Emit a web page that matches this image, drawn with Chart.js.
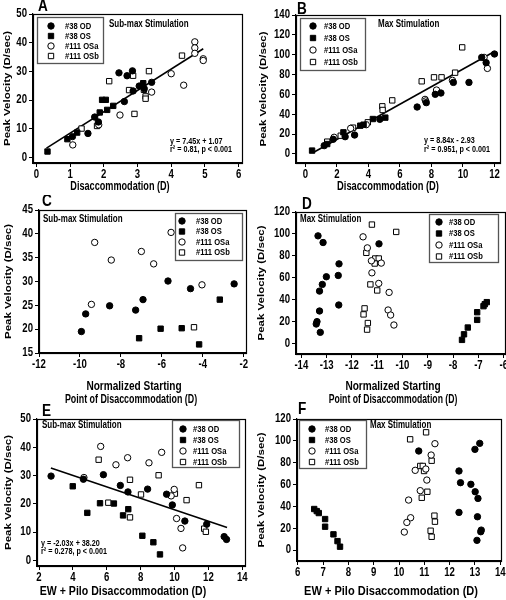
<!DOCTYPE html>
<html>
<head>
<meta charset="utf-8">
<script src="https://cdn.jsdelivr.net/npm/chart.js@4.4.1/dist/chart.umd.min.js"></script>
<style>
  html, body { margin: 0; padding: 0; background: #fff; }
  #wrap { position: relative; width: 506px; height: 600px; overflow: hidden; background: #fff; }
  #wrap canvas { position: absolute; }
</style>
</head>
<body>
<div id="wrap">
  <canvas id="cA"></canvas>
  <canvas id="cB"></canvas>
  <canvas id="cC"></canvas>
  <canvas id="cD"></canvas>
  <canvas id="cE"></canvas>
  <canvas id="cF"></canvas>
</div>
<script>
// series names, same in every panel
const seriesNames = ['#38 OD', '#38 OS', '#111 OSa', '#111 OSb'];

// A: sub-max, peak velocity vs disaccommodation
const aOD = [[1.07,7.3],[1.53,8.4],[1.73,14.1],[1.84,12.4],[2.45,29.5],[2.69,28.5],[2.85,30.2],[2.61,19.5],[3.05,24.9],[3.42,26.2],[2.87,23.2],[3.2,24.0]];
const aOS = [[0.33,2.1],[0.92,6.4],[1.21,8.7],[1.88,15.7],[1.95,20.1],[2.06,20.1],[2.1,16.6],[2.28,18.0],[3.17,25.9]];
const aOSa = [[1.08,4.4],[1.85,11.4],[2.48,14.8],[3.42,22.8],[4.0,29.2],[4.37,25.2],[4.7,40.3],[4.7,38.2],[4.7,36.3],[4.95,34.4],[4.95,33.8]];
const aOSb = [[1.34,10.1],[1.8,11.0],[2.16,26.6],[2.75,23.5],[2.87,28.5],[2.91,15.2],[3.34,30.1],[3.19,23.6],[3.24,21.3],[3.24,20.5],[4.32,35.5]];
const aFit = [[0.3,3.3],[4.95,37.9]];
const aXTicks = [0,1,2,3,4,5,6];
const aYTicks = [0,10,20,30,40,50];

// B: max, peak velocity vs disaccommodation
const bOD = [[1.19,8.4],[1.76,14.8],[2.52,17.4],[3.12,19.1],[4.72,34.9],[7.09,47.3],[7.67,51.7],[8.24,60.1],[8.6,61.4],[9.39,72.1],[10.38,72.1],[11.19,97.3],[11.47,92],[12.0,100.7]];
const bOS = [[0.42,3.4],[1.38,10],[2.41,21.8],[3.48,28.5],[3.69,29.5],[4.28,35.2],[5.07,36.6]];
const bOSa = [[1.82,16.8],[2.87,25.8],[3.86,29.5],[7.59,55],[7.63,53.4],[8.32,64.4],[9.33,74.2],[11.34,97.3],[11.55,86.2]];
const bOSb = [[1.38,12.4],[2.24,18.4],[3.02,26.5],[3.96,31.9],[4.88,48],[4.9,44.3],[5.51,54],[7.38,73.2],[8.16,77.2],[8.64,77.2],[9.5,81.9],[9.95,107.4]];
const bFit = [[0.5,1.5],[12,103.2]];
const bXTicks = [0,2,4,6,8,10,12];
const bYTicks = [0,20,40,60,80,100,120,140];

// C: sub-max, peak velocity vs normalized starting point
const cOD = [[-9.93,19.5],[-9.72,23.2],[-8.55,24.9],[-7.28,24.0],[-6.92,26.2],[-5.7,30.1],[-4.6,28.5],[-2.47,29.5]];
const cOS = [[-7.11,18.1],[-6.06,20.1],[-5.03,20.2],[-4.18,16.8],[-3.17,26.2]];
const cOSa = [[-9.28,38.2],[-8.47,34.5],[-7.0,36.3],[-6.4,33.7],[-5.55,40.3],[-4.04,29.3],[-9.44,25.2]];
const cOSb = [[-4.43,20.4]];
const cXTicks = [-12,-10,-8,-6,-4,-2];
const cYTicks = [15,20,25,30,35,40,45];

// D: max, peak velocity vs normalized starting point
const dOD = [[-13.34,98.2],[-13.14,92.1],[-12.51,72.6],[-13.01,60.8],[-12.54,62.0],[-13.17,53.8],[-13.28,47.7],[-12.52,35.0],[-13.28,29.5],[-13.38,19.8],[-13.41,17.6],[-13.25,10.0],[-10.93,90.9]];
const dOS = [[-7.65,3.1],[-7.57,8.2],[-7.42,14.4],[-7.05,21.4],[-7.05,28.4],[-6.8,33.9],[-6.75,35.7],[-6.67,37.6]];
const dOSa = [[-11.56,97.3],[-11.39,87.2],[-11.23,75.4],[-10.84,73.3],[-11.21,64.4],[-10.94,54.7],[-10.53,46.5],[-10.57,30.4],[-10.47,25.8],[-10.34,16.7]];
const dOSb = [[-11.21,108.5],[-10.25,101.8],[-11.43,82.7],[-11.08,77.5],[-10.94,77.5],[-11.1,72.9],[-11.27,53.8],[-11.0,48.3],[-11.5,31.9],[-11.54,26.4],[-11.37,18.5],[-11.4,12.5]];
const dXTicks = [-14,-13,-12,-11,-10,-9,-8,-7,-6];
const dYTicks = [0,20,40,60,80,100,120];

// E: sub-max, peak velocity vs EW + pilo disaccommodation
const eOD = [[2.71,29.8],[4.62,28.7],[5.8,30.3],[6.8,26.5],[7.25,24.2],[8.41,25.2],[9.53,23.4],[9.87,19.6],[10.61,13.9],[11.9,12.8],[12.93,8.4],[13.07,7.4]];
const eOS = [[3.99,26.2],[4.85,16.8],[5.6,20.2],[6.42,20.1],[6.96,15.9],[7.27,18.1],[8.1,8.7],[8.75,6.4],[9.14,2.1]];
const eOSa = [[4.65,29.3],[5.64,40.3],[6.54,33.8],[7.23,36.3],[8.49,34.5],[9.24,38.2],[9.98,25.1],[9.8,22.8],[10.12,14.8],[10.38,11.3],[10.48,4.4]];
const eOSb = [[5.52,35.6],[6.09,20.4],[7.37,28.5],[7.37,15.2],[8.02,23.3],[9.06,30.1],[10.02,23.6],[10.71,21.3],[11.44,26.6],[11.75,11.2],[11.85,10.1]];
const eFit = [[2.7,32.7],[13.1,11.6]];
const eXTicks = [2,4,6,8,10,12,14];
const eYTicks = [0,10,20,30,40,50];

// F: max, peak velocity vs EW + pilo disaccommodation
const fOD = [[13.19,97.7],[13.0,92.2],[12.37,72.4],[12.43,61.7],[12.84,60.2],[13.01,53.4],[13.12,47.3],[13.1,30.5],[12.37,34.5],[13.25,18.3],[13.23,16.8],[13.08,8.9],[10.78,90.7]];
const fOS = [[6.65,37.6],[6.75,35.7],[6.83,33.9],[7.08,28.4],[7.08,21.4],[7.41,14.4],[7.57,8.2],[7.67,3.1]];
const fOSa = [[11.42,97.4],[11.27,87],[11.06,74.2],[10.64,73],[11.1,64.1],[10.84,54.4],[10.38,45.8],[10.46,29.6],[10.31,25.3],[10.21,16.5]];
const fOSb = [[10.44,101.4],[11.07,107.8],[10.84,77],[10.94,77],[10.99,72.4],[11.29,81.8],[11.12,53.4],[10.9,47.9],[11.4,31.5],[11.42,26],[11.25,17.7],[11.29,12.2]];
const fXTicks = [6,7,8,9,10,11,12,13,14];
const fYTicks = [0,20,40,60,80,100,120];

const K = 0.8;   // default horizontal squeeze of the lettering, like the scanned figure
const FONT = "'Liberation Sans', Arial, sans-serif";
Chart.defaults.font.family = FONT;
Chart.defaults.font.weight = 'bold';
Chart.defaults.color = '#000';

const markers = [
  { pointStyle: 'circle', radius: 3.2, fill: '#000' },
  { pointStyle: 'rect', radius: 3.8, fill: '#000' },
  { pointStyle: 'circle', radius: 3.2, fill: '#fff' },
  { pointStyle: 'rect', radius: 3.8, fill: '#fff' }
];

// squeeze every text horizontally around its anchor (rotated text: squeeze its thickness)
const narrowText = {
  id: 'narrowText',
  afterInit(chart) {
    const ctx = chart.ctx;
    const base = ctx.fillText;
    chart.$k = K;
    ctx.fillText = function (t, x, y, mw) {
      const k = chart.$k;
      const m = ctx.getTransform();
      ctx.save();
      ctx.translate(x, y);
      if (Math.abs(m.b) > 0.5) ctx.scale(1, k); else ctx.scale(k, 1);
      if (mw === undefined) base.call(ctx, t, 0, 0); else base.call(ctx, t, 0, 0, mw / k);
      ctx.restore();
    };
  }
};

// frame, panel letter, notes, x title and boxed legend
const decor = {
  id: 'decor',
  afterDraw(chart, args, o) {
    const ctx = chart.ctx, a = chart.chartArea;
    const ox = o.ox, oy = o.oy;
    ctx.save();
    ctx.strokeStyle = '#000';
    ctx.lineWidth = 1.2;
    ctx.strokeRect(Math.round(a.left) + 0.5, Math.round(a.top) + 0.5, Math.round(a.right - a.left), Math.round(a.bottom - a.top));

    ctx.fillStyle = '#000';
    ctx.textBaseline = 'alphabetic';
    ctx.textAlign = 'left';
    ctx.font = 'bold 17px ' + FONT;
    ctx.fillText(o.letter[0], o.letter[1] - ox, o.letter[2] - oy);

    ctx.textBaseline = 'middle';
    ctx.font = 'bold 10px ' + FONT;
    ctx.fillText(o.stim[0], o.stim[1] - ox, o.stim[2] - oy);

    ctx.font = 'bold 9px ' + FONT;
    (o.notes || []).forEach(n => ctx.fillText(n[0], n[1] - ox, n[2] - oy));

    // x titles: [text, centre x, centre y, font size, squeeze]
    ctx.textAlign = 'center';
    o.xTitle.forEach(n => {
      ctx.font = 'bold ' + n[3] + 'px ' + FONT;
      chart.$k = n[4];
      ctx.fillText(n[0], n[1] - ox, n[2] - oy);
    });
    chart.$k = K;

    const L = o.legend;
    ctx.fillStyle = '#fff';
    ctx.fillRect(L.box[0] - ox, L.box[1] - oy, L.box[2] - L.box[0], L.box[3] - L.box[1]);
    ctx.strokeStyle = '#555';
    ctx.lineWidth = 1.3;
    ctx.strokeRect(L.box[0] - ox + 0.5, L.box[1] - oy + 0.5, L.box[2] - L.box[0], L.box[3] - L.box[1]);
    ctx.textAlign = 'left';
    ctx.font = 'bold 9.5px ' + FONT;
    seriesNames.forEach((name, i) => {
      const y = L.rows[i] - oy;
      ctx.fillStyle = markers[i].fill;
      ctx.strokeStyle = '#000';
      ctx.lineWidth = 1;
      Chart.helpers.drawPoint(ctx, { pointStyle: markers[i].pointStyle, radius: markers[i].radius, rotation: 0, borderWidth: 1 }, L.mx - ox, y);
      ctx.fillStyle = '#000';
      ctx.fillText(name, L.tx - ox, y);
    });
    ctx.restore();
  }
};

function toXY(arr) { return arr.map(p => ({ x: p[0], y: p[1] })); }

function makePanel(id, p) {
  const cv = document.getElementById(id);
  const c = p.canvas, b = p.box;
  cv.width = c.w; cv.height = c.h;
  cv.style.left = c.x + 'px'; cv.style.top = c.y + 'px';
  cv.style.width = c.w + 'px'; cv.style.height = c.h + 'px';

  const datasets = p.groups.map((g, i) => ({
    label: seriesNames[i],
    data: toXY(g),
    pointStyle: markers[i].pointStyle,
    pointRadius: markers[i].radius,
    pointBackgroundColor: markers[i].fill,
    pointBorderColor: '#000',
    pointBorderWidth: 1,
    showLine: false,
    order: 1
  }));
  if (p.fit) {
    datasets.push({
      type: 'line', data: toXY(p.fit), borderColor: '#000', borderWidth: 1.6,
      pointRadius: 0, fill: false, tension: 0, order: 9
    });
  }

  const tickFont = { size: 12, weight: 'bold' };
  new Chart(cv, {
    type: 'scatter',
    data: { datasets },
    options: {
      responsive: false,
      animation: false,
      events: [],
      layout: { autoPadding: false, padding: { left: 0, top: b.t - c.y, right: c.x + c.w - b.r, bottom: 0 } },
      plugins: {
        legend: { display: false },
        tooltip: { enabled: false },
        decor: Object.assign({ ox: c.x, oy: c.y }, p.decor)
      },
      scales: {
        x: {
          type: 'linear', min: p.x[0], max: p.x[1],
          afterBuildTicks: ax => { ax.ticks = p.xTicks.map(v => ({ value: v })); },
          afterFit: ax => { ax.height = c.y + c.h - b.b; },
          border: { display: true, color: '#000', width: 1.2 },
          grid: { display: true, drawOnChartArea: false, drawTicks: true, tickLength: 4, color: '#000', lineWidth: 1 },
          ticks: { color: '#000', font: tickFont, padding: 0, autoSkip: false, maxRotation: 0 }
        },
        y: {
          type: 'linear', min: p.y[0], max: p.y[1],
          afterBuildTicks: ax => { ax.ticks = p.yTicks.map(v => ({ value: v })); },
          afterFit: ax => { ax.width = b.l - c.x; },
          border: { display: true, color: '#000', width: 1.2 },
          grid: { display: true, drawOnChartArea: false, drawTicks: true, tickLength: 4, color: '#000', lineWidth: 1 },
          ticks: { color: '#000', font: tickFont, padding: 2, autoSkip: false },
          title: { display: true, text: 'Peak Velocity (D/sec)', color: '#000', font: { size: 11.5, weight: 'bold' }, padding: { top: p.yTitleX - c.x - 6.9, bottom: 0 } }
        }
      }
    },
    plugins: [narrowText, decor]
  });
}

makePanel('cA', {
  canvas: { x: 0, y: 0, w: 253, h: 200 }, box: { l: 33, t: 14, r: 242, b: 163 },
  x: [-0.1, 6.1], y: [-1.9, 50], xTicks: aXTicks, yTicks: aYTicks, yTitleX: 7,
  groups: [aOD, aOS, aOSa, aOSb], fit: aFit,
  decor: {
    letter: ['A', 38, 11], stim: ['Sub-max Stimulation', 109, 24],
    notes: [['y = 7.45x + 1.07', 170, 141.5], ['r\u00b2 = 0.81, p < 0.001', 170, 150]],
    xTitle: [['Disaccommodation (D)', 120, 187, 12, 0.76]],
    legend: { box: [37, 17, 103, 63], rows: [26, 36, 46, 56], mx: 51, tx: 65 }
  }
});

makePanel('cB', {
  canvas: { x: 253, y: 0, w: 262, h: 200 }, box: { l: 296, t: 15, r: 500, b: 163 },
  x: [-0.6, 12.35], y: [-9.1, 140], xTicks: bXTicks, yTicks: bYTicks, yTitleX: 263,
  groups: [bOD, bOS, bOSa, bOSb], fit: bFit,
  decor: {
    letter: ['B', 297, 14], stim: ['Max Stimulation', 378, 24],
    notes: [['y = 8.84x - 2.93', 424, 141], ['r\u00b2 = 0.951, p < 0.001', 424, 150]],
    xTitle: [['Disaccommodation (D)', 388, 187, 12, 0.78]],
    legend: { box: [300, 18, 365, 70], rows: [26, 38, 50, 62], mx: 313, tx: 324 }
  }
});

makePanel('cC', {
  canvas: { x: 0, y: 195, w: 253, h: 212 }, box: { l: 39, t: 210, r: 246, b: 353 },
  x: [-12, -1.89], y: [15, 45], xTicks: cXTicks, yTicks: cYTicks, yTitleX: 8.3,
  groups: [cOD, cOS, cOSa, cOSb],
  decor: {
    letter: ['C', 42, 206], stim: ['Sub-max Stimulation', 43, 219],
    xTitle: [['Normalized Starting', 134, 386.5, 12, 0.84], ['Point of Disaccommodation (D)', 131, 400, 12, 0.74]],
    legend: { box: [175, 213, 242, 260], rows: [221, 231.5, 242, 252.5], mx: 182, tx: 196 }
  }
});

makePanel('cD', {
  canvas: { x: 253, y: 195, w: 262, h: 212 }, box: { l: 296, t: 212, r: 505, b: 354 },
  x: [-14.21, -5.95], y: [-9.8, 120], xTicks: dXTicks, yTicks: dYTicks, yTitleX: 261.3,
  groups: [dOD, dOS, dOSa, dOSb],
  decor: {
    letter: ['D', 302, 209], stim: ['Max Stimulation', 300, 219],
    xTitle: [['Normalized Starting', 393, 386.5, 12, 0.84], ['Point of Disaccommodation (D)', 393, 400, 12, 0.72]],
    legend: { box: [429, 214, 498, 262], rows: [222, 233.5, 245, 256.5], mx: 439, tx: 449 }
  }
});

makePanel('cE', {
  canvas: { x: 0, y: 400, w: 253, h: 200 }, box: { l: 37, t: 419, r: 245, b: 566 },
  x: [1.88, 14.16], y: [-2, 50], xTicks: eXTicks, yTicks: eYTicks, yTitleX: 8.3,
  groups: [eOD, eOS, eOSa, eOSb], fit: eFit,
  decor: {
    letter: ['E', 42, 416], stim: ['Sub-max Stimulation', 42, 425],
    notes: [['y = -2.03x + 38.20', 41, 544], ['r\u00b2 = 0.278, p < 0.001', 41, 552]],
    xTitle: [['EW + Pilo Disaccommodation (D)', 123, 591.5, 12, 0.88]],
    legend: { box: [172, 420, 239, 467], rows: [429, 440, 451, 462], mx: 183, tx: 193 }
  }
});

makePanel('cF', {
  canvas: { x: 253, y: 400, w: 262, h: 200 }, box: { l: 297, t: 419, r: 501, b: 561 },
  x: [5.97, 14.03], y: [-10, 120], xTicks: fXTicks, yTicks: fYTicks, yTitleX: 261.3,
  groups: [fOD, fOS, fOSa, fOSb],
  decor: {
    letter: ['F', 298, 414], stim: ['Max Stimulation', 370, 425],
    xTitle: [['EW + Pilo Disaccommodation (D)', 391, 591.5, 12, 0.92]],
    legend: { box: [299, 420, 366, 468], rows: [429, 440, 451, 462], mx: 312, tx: 325 }
  }
});
</script>
</body>
</html>
